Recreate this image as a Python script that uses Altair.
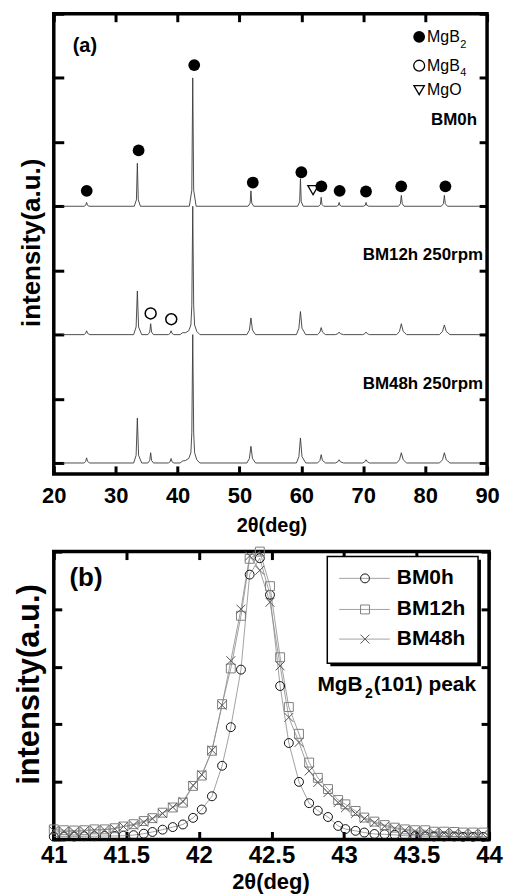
import altair as alt
import pandas as pd

FONT = "Liberation Sans"

# ---------------- panel (a): XRD patterns (intensity above own baseline) ----------------
bm0h_tt = [21.4, 24.9, 25.15, 25.3, 25.45, 25.7, 33.0, 33.35, 33.5, 33.65, 34.0,
           41.9, 42.3, 42.45, 42.6, 43.0, 51.4, 51.72, 51.85, 51.98, 52.3,
           59.4, 59.72, 59.85, 59.98, 60.3, 62.8, 63.08, 63.2, 63.32, 63.6,
           65.7, 65.98, 66.1, 66.22, 66.5, 70.0, 70.33, 70.45, 70.57, 70.9,
           75.7, 76.0, 76.15, 76.3, 76.6, 82.6, 82.95, 83.1, 83.25, 83.6, 88.9]
bm0h_int = [0.0, 0.0, 0.015, 0.06, 0.015, 0.0, 0.0, 0.1, 0.67, 0.1, 0.0,
            0.0, 0.25, 2.0, 0.25, 0.0, 0.0, 0.05, 0.24, 0.05, 0.0,
            0.0, 0.07, 0.43, 0.07, 0.0, 0.0, 0.03, 0.14, 0.03, 0.0,
            0.0, 0.015, 0.06, 0.015, 0.0, 0.0, 0.015, 0.06, 0.015, 0.0,
            0.0, 0.04, 0.17, 0.04, 0.0, 0.0, 0.04, 0.17, 0.04, 0.0, 0.0]

bm12_tt = [21.4, 24.9, 25.15, 25.3, 25.45, 25.8, 32.9, 33.3, 33.5, 33.7, 34.2,
           35.2, 35.5, 35.65, 35.8, 36.1, 38.5, 38.8, 38.95, 39.1, 39.4,
           40.4, 40.8, 41.3, 41.8, 42.15, 42.3, 42.45, 42.6, 42.75, 43.1, 43.6,
           51.2, 51.6, 51.85, 52.1, 52.6, 59.2, 59.6, 59.85, 60.1, 60.7,
           62.6, 63.0, 63.2, 63.4, 63.9, 65.5, 65.9, 66.1, 66.3, 66.8,
           69.9, 70.25, 70.45, 70.65, 71.0, 75.4, 75.85, 76.15, 76.45, 77.0,
           82.3, 82.8, 83.1, 83.4, 84.0, 88.9]
bm12_int = [0.0, 0.0, 0.02, 0.06, 0.02, 0.0, 0.0, 0.12, 0.68, 0.12, 0.0,
            0.0, 0.04, 0.17, 0.04, 0.0, 0.0, 0.02, 0.06, 0.02, 0.0,
            0.0, 0.03, 0.03, 0.06, 0.15, 0.45, 2.0, 0.45, 0.15, 0.05, 0.0,
            0.0, 0.07, 0.26, 0.07, 0.0, 0.0, 0.1, 0.36, 0.1, 0.0,
            0.0, 0.04, 0.11, 0.04, 0.0, 0.0, 0.015, 0.04, 0.015, 0.0,
            0.0, 0.015, 0.04, 0.015, 0.0, 0.0, 0.05, 0.17, 0.05, 0.0,
            0.0, 0.05, 0.15, 0.05, 0.0, 0.0]

bm48_tt = [21.4, 24.9, 25.15, 25.3, 25.45, 25.8, 32.9, 33.3, 33.5, 33.7, 34.2,
           35.2, 35.5, 35.65, 35.8, 36.1, 38.5, 38.8, 38.95, 39.1, 39.4,
           40.4, 40.8, 41.3, 41.8, 42.15, 42.3, 42.45, 42.6, 42.75, 43.1, 43.6,
           51.2, 51.6, 51.85, 52.1, 52.6, 59.2, 59.6, 59.85, 60.1, 60.7,
           62.6, 63.0, 63.2, 63.4, 63.9, 65.5, 65.9, 66.1, 66.3, 66.8,
           69.9, 70.25, 70.45, 70.65, 71.0, 75.4, 75.85, 76.15, 76.45, 77.0,
           82.3, 82.8, 83.1, 83.4, 84.0, 88.9]
bm48_int = [0.0, 0.0, 0.025, 0.08, 0.025, 0.0, 0.0, 0.12, 0.70, 0.12, 0.0,
            0.0, 0.04, 0.16, 0.04, 0.0, 0.0, 0.02, 0.07, 0.02, 0.0,
            0.0, 0.03, 0.04, 0.07, 0.16, 0.47, 2.0, 0.47, 0.16, 0.05, 0.0,
            0.0, 0.07, 0.26, 0.07, 0.0, 0.0, 0.1, 0.39, 0.1, 0.0,
            0.0, 0.04, 0.13, 0.04, 0.0, 0.0, 0.02, 0.05, 0.02, 0.0,
            0.0, 0.02, 0.05, 0.02, 0.0, 0.0, 0.05, 0.16, 0.05, 0.0,
            0.0, 0.05, 0.16, 0.05, 0.0, 0.0]

pattern_names = ["BM0h", "BM12h", "BM48h"]
pattern_offsets = [4.0, 2.0, 0.0]
pattern_labels = ["BM0h", "BM12h 250rpm", "BM48h 250rpm"]

# phase markers (2theta, plotted height)
mgb2_tt = [25.32, 33.7, 42.69, 52.15, 60.0, 63.23, 66.18, 70.44, 76.13, 83.27]
mgb2_h = [4.24, 4.87, 6.20, 4.37, 4.53, 4.31, 4.24, 4.23, 4.31, 4.31]
mgb4_tt = [35.65, 38.98]
mgb4_h = [2.33, 2.24]
mgo_tt = [61.89]
mgo_h = [4.25]

# ---------------- panel (b): MgB2 (101) peak ----------------
peak_tt = [41.00, 41.07, 41.14, 41.21, 41.28, 41.35, 41.42, 41.48, 41.55, 41.62,
           41.68, 41.75, 41.82, 41.89, 41.96, 42.02, 42.09, 42.16, 42.22, 42.29,
           42.35, 42.42, 42.49, 42.56, 42.62, 42.69, 42.76, 42.82, 42.89, 42.96,
           43.01, 43.08, 43.14, 43.21, 43.28, 43.35, 43.42, 43.49, 43.56, 43.62,
           43.69, 43.76, 43.82, 43.89, 43.96]
peak_bm0h = [0.010, 0.010, 0.010, 0.011, 0.011, 0.012, 0.012, 0.013, 0.015, 0.020,
             0.026, 0.034, 0.043, 0.052, 0.075, 0.104, 0.150, 0.256, 0.390, 0.590,
             0.920, 0.977, 0.850, 0.533, 0.335, 0.200, 0.126, 0.100, 0.078, 0.047,
             0.036, 0.030, 0.024, 0.019, 0.018, 0.016, 0.013, 0.012, 0.011, 0.010,
             0.010, 0.010, 0.009, 0.009, 0.009]
peak_bm12h = [0.035, 0.032, 0.031, 0.032, 0.035, 0.035, 0.039, 0.045, 0.053, 0.064,
              0.074, 0.093, 0.111, 0.128, 0.186, 0.222, 0.308, 0.470, 0.594, 0.777,
              0.975, 1.000, 0.880, 0.633, 0.460, 0.367, 0.267, 0.214, 0.175, 0.137,
              0.122, 0.099, 0.076, 0.062, 0.050, 0.041, 0.035, 0.032, 0.032, 0.027,
              0.027, 0.026, 0.024, 0.024, 0.024]
peak_bm48h = [0.030, 0.028, 0.027, 0.030, 0.032, 0.033, 0.037, 0.045, 0.050, 0.060,
              0.072, 0.090, 0.112, 0.132, 0.188, 0.225, 0.310, 0.466, 0.621, 0.800,
              0.985, 0.935, 0.824, 0.603, 0.424, 0.337, 0.238, 0.198, 0.163, 0.128,
              0.110, 0.090, 0.072, 0.058, 0.046, 0.038, 0.032, 0.028, 0.026, 0.024,
              0.022, 0.022, 0.020, 0.020, 0.018]
peak_series = ["BM0h", "BM12h", "BM48h"]

# ---------------- tables ----------------
rows = []
for name, off, xs, ys in zip(pattern_names, pattern_offsets,
                             [bm0h_tt, bm12_tt, bm48_tt],
                             [bm0h_int, bm12_int, bm48_int]):
    assert len(xs) == len(ys)
    for x, y in zip(xs, ys):
        rows.append({"tt": x, "I": y + off, "pattern": name})
xrd_df = pd.DataFrame(rows)

prow = []
for name, ys in zip(peak_series, [peak_bm0h, peak_bm12h, peak_bm48h]):
    assert len(ys) == len(peak_tt)
    for x, y in zip(peak_tt, ys):
        prow.append({"tt": x, "I": y, "series": name})
peak_df = pd.DataFrame(prow)

# ---------------- helpers ----------------
def tick_axis(orient, values, labels=False, size=8, lab_size=22, lab_pad=10, fmt=None):
    kw = dict(orient=orient, values=values, labels=labels, tickSize=size, tickWidth=3,
              tickColor="black", offset=-size, domain=False, grid=False, title=None)
    if labels:
        kw.update(labelFont=FONT, labelFontSize=lab_size, labelFontWeight="bold",
                  labelColor="black", labelPadding=lab_pad, labelFlush=False,
                  labelOverlap=False, labelBound=False)
        if fmt:
            kw["format"] = fmt
    return alt.Axis(**kw)


def text_layer(df, xs, ys, size, weight="bold", align="left", color="black"):
    return alt.Chart(df).mark_text(font=FONT, fontSize=size, fontWeight=weight,
                                   align=align, baseline="middle", color=color).encode(
        x=alt.X("x:Q", scale=xs, axis=None),
        y=alt.Y("y:Q", scale=ys, axis=None),
        text="t:N")


def pix_text(t, px, py, size, angle=0):
    kw = dict(font=FONT, fontSize=size, fontWeight="bold", align="center",
              baseline="middle", color="black")
    if angle:
        kw["angle"] = angle
    return alt.Chart(pd.DataFrame({"t": [t]})).mark_text(**kw).encode(
        x=alt.value(px), y=alt.value(py), text="t:N")

# ---------------- panel (a) ----------------
xs_a = alt.Scale(domain=[20, 90], nice=False, zero=False)
ys_a = alt.Scale(domain=[-0.17, 7.0], nice=False, zero=False)
xt_a = list(range(20, 91, 10))
yt_a = list(range(0, 8))

a_lines = alt.Chart(xrd_df).mark_line(color="#3a3a3a", strokeWidth=0.9).encode(
    x=alt.X("tt:Q", scale=xs_a, axis=tick_axis("bottom", xt_a, labels=True, lab_size=22, lab_pad=12)),
    y=alt.Y("I:Q", scale=ys_a, axis=tick_axis("left", yt_a, size=10)),
    detail="pattern:N")
a_axes2 = alt.Chart(xrd_df).mark_point(opacity=0).encode(
    x=alt.X("tt:Q", scale=xs_a, axis=tick_axis("top", xt_a)),
    y=alt.Y("I:Q", scale=ys_a, axis=tick_axis("right", yt_a)))

mgb2_pts = alt.Chart(pd.DataFrame({"x": mgb2_tt, "y": mgb2_h})).mark_point(
    shape="circle", filled=True, size=140, color="black", opacity=1).encode(
    x=alt.X("x:Q", scale=xs_a, axis=None), y=alt.Y("y:Q", scale=ys_a, axis=None))
mgb4_pts = alt.Chart(pd.DataFrame({"x": mgb4_tt, "y": mgb4_h})).mark_point(
    shape="circle", filled=False, size=120, color="black", strokeWidth=1.5, opacity=1).encode(
    x=alt.X("x:Q", scale=xs_a, axis=None), y=alt.Y("y:Q", scale=ys_a, axis=None))
mgo_pts = alt.Chart(pd.DataFrame({"x": mgo_tt, "y": mgo_h})).mark_point(
    shape="triangle-down", filled=False, size=110, color="black", strokeWidth=1.3, opacity=1).encode(
    x=alt.X("x:Q", scale=xs_a, axis=None), y=alt.Y("y:Q", scale=ys_a, axis=None))

# phase key (top right)
key_x = 79.03
key_y = [6.64, 6.19, 5.81]
key_filled = alt.Chart(pd.DataFrame({"x": [key_x], "y": [key_y[0]]})).mark_point(
    shape="circle", filled=True, size=140, color="black", opacity=1).encode(
    x=alt.X("x:Q", scale=xs_a, axis=None), y=alt.Y("y:Q", scale=ys_a, axis=None))
key_open = alt.Chart(pd.DataFrame({"x": [key_x], "y": [key_y[1]]})).mark_point(
    shape="circle", filled=False, size=120, color="black", strokeWidth=1.3, opacity=1).encode(
    x=alt.X("x:Q", scale=xs_a, axis=None), y=alt.Y("y:Q", scale=ys_a, axis=None))
key_tri = alt.Chart(pd.DataFrame({"x": [key_x], "y": [key_y[2]]})).mark_point(
    shape="triangle-down", filled=False, size=110, color="black", strokeWidth=1.3, opacity=1).encode(
    x=alt.X("x:Q", scale=xs_a, axis=None), y=alt.Y("y:Q", scale=ys_a, axis=None))
key_text = text_layer(pd.DataFrame({"x": [80.3, 80.3, 80.3], "y": key_y,
                                    "t": ["MgB", "MgB", "MgO"]}), xs_a, ys_a, 16, weight="normal")
key_sub = text_layer(pd.DataFrame({"x": [85.65, 85.65], "y": [6.52, 6.08], "t": ["2", "4"]}),
                     xs_a, ys_a, 11, weight="normal")

a_labels = text_layer(pd.DataFrame({"x": [88.39, 89.35, 89.35], "y": [5.34, 3.24, 1.23],
                                    "t": pattern_labels}), xs_a, ys_a, 17, align="right")
a_tag = text_layer(pd.DataFrame({"x": [23.06], "y": [6.49], "t": ["(a)"]}), xs_a, ys_a, 20)

a_ytitle = pix_text("intensity(a.u.)", -22, 230, 26, angle=270)
a_xtitle = pix_text("2θ(deg)", 219, 514, 20)

panel_a = alt.layer(a_lines, a_axes2, mgb2_pts, mgb4_pts, mgo_pts, key_filled, key_open,
                    key_tri, key_text, key_sub, a_labels, a_tag, a_ytitle, a_xtitle).resolve_axis(
    x="independent", y="independent").properties(width=435, height=462)

# ---------------- panel (b) ----------------
xs_b = alt.Scale(domain=[41, 44], nice=False, zero=False)
ys_b = alt.Scale(domain=[0, 1], nice=False, zero=False)
xt_b = [41, 41.5, 42, 42.5, 43, 43.5, 44]
yt_b = [0, 0.2, 0.4, 0.6, 0.8, 1.0]

shape_dom = peak_series
shape_rng = ["circle", "square", "M-1,-1L1,1M-1,1L1,-1"]
color_rng = ["#111111", "#808080", "#555555"]

b_lines = alt.Chart(peak_df).mark_line(color="#8a8a8a", strokeWidth=0.8).encode(
    x=alt.X("tt:Q", scale=xs_b, axis=tick_axis("bottom", xt_b, labels=True, lab_size=24,
                                                lab_pad=4, fmt="~g")),
    y=alt.Y("I:Q", scale=ys_b, axis=tick_axis("left", yt_b)),
    detail="series:N")
b_axes2 = alt.Chart(peak_df).mark_point(opacity=0).encode(
    x=alt.X("tt:Q", scale=xs_b, axis=tick_axis("top", xt_b)),
    y=alt.Y("I:Q", scale=ys_b, axis=tick_axis("right", yt_b)))
b_pts = alt.Chart(peak_df).mark_point(filled=False, size=80, strokeWidth=1, opacity=1).encode(
    x=alt.X("tt:Q", scale=xs_b, axis=None),
    y=alt.Y("I:Q", scale=ys_b, axis=None),
    shape=alt.Shape("series:N", scale=alt.Scale(domain=shape_dom, range=shape_rng), legend=None),
    color=alt.Color("series:N", scale=alt.Scale(domain=shape_dom, range=color_rng), legend=None))

# legend box with drop shadow
box_df = pd.DataFrame({"x": [42.885], "x2": [43.924], "y": [0.983], "y2": [0.612]})
shadow_df = pd.DataFrame({"x": [42.906], "x2": [43.944], "y": [0.972], "y2": [0.602]})
b_shadow = alt.Chart(shadow_df).mark_rect(color="black").encode(
    x=alt.X("x:Q", scale=xs_b, axis=None), x2="x2", y=alt.Y("y:Q", scale=ys_b, axis=None), y2="y2")
b_box = alt.Chart(box_df).mark_rect(fill="white", stroke="black", strokeWidth=1.5).encode(
    x=alt.X("x:Q", scale=xs_b, axis=None), x2="x2", y=alt.Y("y:Q", scale=ys_b, axis=None), y2="y2")
leg_y = [0.907, 0.799, 0.696]
leg_df = pd.DataFrame({"series": peak_series, "y": leg_y, "x": [42.967] * 3, "x2": [43.316] * 3,
                       "xm": [43.145] * 3, "xt": [43.364] * 3})
b_leg_lines = alt.Chart(leg_df).mark_rule(color="#8a8a8a", strokeWidth=0.8).encode(
    x=alt.X("x:Q", scale=xs_b, axis=None), x2="x2", y=alt.Y("y:Q", scale=ys_b, axis=None))
b_leg_pts = alt.Chart(leg_df).mark_point(filled=False, size=80, strokeWidth=1, opacity=1).encode(
    x=alt.X("xm:Q", scale=xs_b, axis=None), y=alt.Y("y:Q", scale=ys_b, axis=None),
    shape=alt.Shape("series:N", scale=alt.Scale(domain=shape_dom, range=shape_rng), legend=None),
    color=alt.Color("series:N", scale=alt.Scale(domain=shape_dom, range=color_rng), legend=None))
b_leg_txt = alt.Chart(leg_df).mark_text(font=FONT, fontSize=21, fontWeight="bold", align="left",
                                        baseline="middle", color="black").encode(
    x=alt.X("xt:Q", scale=xs_b, axis=None), y=alt.Y("y:Q", scale=ys_b, axis=None), text="series:N")

b_peak_txt = text_layer(pd.DataFrame({"x": [42.817, 43.206], "y": [0.536, 0.536],
                                      "t": ["MgB", "(101) peak"]}), xs_b, ys_b, 21)
b_peak_sub = text_layer(pd.DataFrame({"x": [43.145], "y": [0.505], "t": ["2"]}), xs_b, ys_b, 14)
b_tag = text_layer(pd.DataFrame({"x": [41.108], "y": [0.907], "t": ["(b)"]}), xs_b, ys_b, 26)

b_ytitle = pix_text("intensity(a.u.)", -23.5, 133.5, 31, angle=270)
b_xtitle = pix_text("2θ(deg)", 218, 332, 22)

panel_b = alt.layer(b_lines, b_axes2, b_pts, b_shadow, b_box, b_leg_lines, b_leg_pts, b_leg_txt,
                    b_peak_txt, b_peak_sub, b_tag, b_ytitle, b_xtitle).resolve_axis(
    x="independent", y="independent").properties(width=437, height=289)

chart = alt.vconcat(panel_a, panel_b, spacing=78, bounds="flush").configure_view(
    stroke="black", strokeWidth=3.5).properties(
    padding={"left": 12, "top": 8, "right": 0, "bottom": 0}, background="white")

chart.save("out.html", embed_options={"renderer": "svg", "actions": False})
